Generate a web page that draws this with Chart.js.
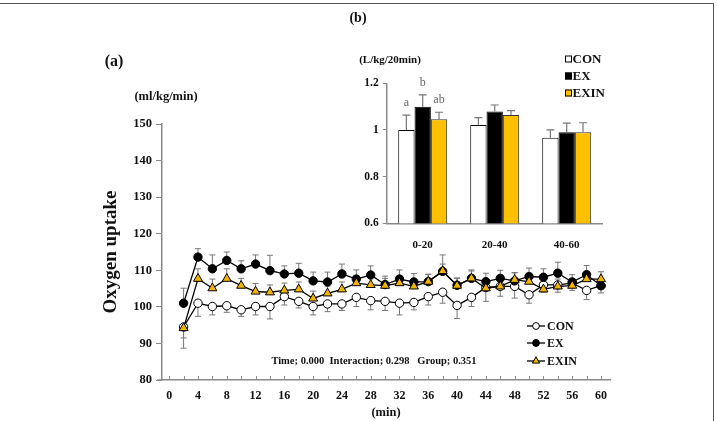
<!DOCTYPE html>
<html><head><meta charset="utf-8">
<script src="https://cdn.jsdelivr.net/npm/chart.js"></script>
<style>
html,body{margin:0;padding:0;background:#fff;}
#wrap{position:relative;width:717px;height:421px;overflow:hidden;}
#main{position:absolute;left:0;top:0;}
#inset{position:absolute;left:340px;top:40px;}
#frame{position:absolute;left:-4px;top:3px;width:718px;height:430px;border-top:1px solid #555;border-right:1.5px solid #555;box-sizing:border-box;}
</style></head>
<body><div id="wrap">
<canvas id="main" width="717" height="421"></canvas>
<canvas id="inset" width="300" height="220"></canvas>
<div id="frame"></div>
</div>
<script>
// ---------- data (a) ----------
const minutes = [2,4,6,8,10,12,14,16,18,20,22,24,26,28,30,32,34,36,38,40,42,44,46,48,50,52,54,56,58,60];
const conVals  = [94.5,101.0,100.1,100.3,99.2,100.1,100.1,102.8,101.5,100.1,100.8,100.8,102.6,101.7,101.5,101.0,101.2,102.8,104.0,100.4,102.6,105.3,105.6,105.6,103.3,106.0,106.0,106.5,104.5,105.8];
const exVals   = [101.0,113.6,110.4,112.7,110.4,111.7,109.9,109.0,109.2,107.1,106.8,109.0,107.6,108.7,106.1,107.6,106.8,106.9,109.7,105.9,107.8,106.9,107.8,107.1,108.3,108.1,109.2,106.8,108.8,105.8];
const exinVals = [94.2,107.7,105.1,107.7,105.8,104.2,104.0,104.5,104.8,102.3,103.7,104.8,106.5,106.0,105.8,106.5,105.6,106.9,109.8,105.8,107.8,105.1,105.6,107.4,106.9,104.8,105.6,105.8,107.6,107.6];
// signed error bars (positive = drawn upward, negative = downward)
const conErr  = [-3.0,-3.6,-2.3,-1.8,-1.8,-2.3,-3.4,-2.3,-1.8,-2.3,-2.1,-1.8,-2.5,-2.5,-2.5,-3.2,-2.0,-2.3,-3.0,-3.6,-2.5,-3.8,-2.7,-3.2,-2.3,-2.0,-2.0,-2.0,-2.5,-2.0];
const exErr   = [4.1,2.3,3.8,2.3,2.2,2.5,4.2,2.2,2.7,2.4,2.7,2.7,2.5,2.5,2.3,2.5,2.3,2.0,2.0,2.0,2.3,2.3,2.2,2.2,2.3,2.3,3.0,2.0,2.5,2.0];
const exinErr = [-5.5,2.7,2.5,2.7,2.0,2.2,2.0,2.0,2.0,2.0,2.0,2.0,2.0,2.2,2.0,2.0,2.0,2.0,4.4,2.0,2.0,2.2,2.2,2.0,2.0,2.0,2.0,2.0,2.0,2.0];
const seriesNames = ['CON','EX','EXIN'];
const xMinorTicks = [0,2,4,6,8,10,12,14,16,18,20,22,24,26,28,30,32,34,36,38,40,42,44,46,48,50,52,54,56,58,60];
const xTickLabels = [0,4,8,12,16,20,24,28,32,36,40,44,48,52,56,60];
const yTicks = [80,90,100,110,120,130,140,150];
const statsText = 'Time; 0.000  Interaction; 0.298   Group; 0.351';

// ---------- data (b) ----------
const periods = ['0-20','20-40','40-60'];
const barCon  = [1.000,1.021,0.967];
const barEx   = [1.100,1.079,0.990];
const barExin = [1.046,1.064,0.990];
const barConErr  = [0.064,0.032,0.033];
const barExErr   = [0.050,0.028,0.039];
const barExinErr = [0.030,0.019,0.041];
const sigLetters = [['a','b','ab'],['','',''],['','','']]; // [period][series]
const barTicks = [0.6,0.8,1.0,1.2];

const SERIF = "'Liberation Serif','Times New Roman',serif";
const GOLD = '#F0B400';
const AXIS = '#8a8a8a';

const pts = vals => minutes.map((m,i)=>({x:m,y:vals[i]}));
const errs = [conErr, exErr, exinErr];

function drawMarker(ctx, style, x, y, r, fill){
  ctx.save();
  ctx.fillStyle = fill; ctx.strokeStyle = '#000'; ctx.lineWidth = 1;
  ctx.beginPath();
  if(style==='triangle'){
    ctx.moveTo(x, y - r);
    ctx.lineTo(x + r*0.866, y + r*0.5);
    ctx.lineTo(x - r*0.866, y + r*0.5);
    ctx.closePath();
  } else {
    ctx.arc(x, y, r, 0, Math.PI*2);
  }
  ctx.fill(); ctx.stroke();
  ctx.restore();
}

const mainDecor = {
  id:'mainDecor',
  beforeDatasetsDraw(chart){
    const ctx = chart.ctx, xs = chart.scales.x, ys = chart.scales.y;
    ctx.save();
    ctx.strokeStyle = '#777'; ctx.lineWidth = 1;
    chart.data.datasets.forEach((ds, di)=>{
      const e = errs[ds.seriesIndex];
      ds.data.forEach((p, j)=>{
        const x = xs.getPixelForValue(p.x);
        const y0 = ys.getPixelForValue(p.y);
        const y1 = ys.getPixelForValue(p.y + e[j]);
        ctx.beginPath();
        ctx.moveTo(x, y0); ctx.lineTo(x, y1);
        ctx.moveTo(x-3, y1); ctx.lineTo(x+3, y1);
        ctx.stroke();
      });
    });
    ctx.restore();
  },
  afterDraw(chart){
    const ctx = chart.ctx, xs = chart.scales.x, ys = chart.scales.y;
    const yb = ys.getPixelForValue(80);
    ctx.save();
    // inward x ticks + short extension left of y axis
    ctx.strokeStyle = AXIS; ctx.lineWidth = 1;
    xMinorTicks.forEach(v=>{
      const x = Math.round(xs.getPixelForValue(v)) + 0.5;
      ctx.beginPath(); ctx.moveTo(x, yb); ctx.lineTo(x, yb-4); ctx.stroke();
    });
    ctx.lineWidth = 1.5;
    ctx.beginPath(); ctx.moveTo(xs.left-5, yb); ctx.lineTo(xs.left, yb); ctx.stroke();
    // texts
    ctx.fillStyle = '#111';
    ctx.textAlign = 'center'; ctx.textBaseline = 'middle';
    ctx.font = 'bold 14px ' + SERIF; ctx.fillText('(b)', 358, 18);
    ctx.font = 'bold 16px ' + SERIF; ctx.fillText('(a)', 114, 62);
    ctx.font = 'bold 12.5px ' + SERIF; ctx.fillText('(ml/kg/min)', 166, 97);
    ctx.font = 'bold 10.5px ' + SERIF; ctx.fillText(statsText, 374, 361);
    // legend
    const legY = [326, 343, 361];
    ctx.textAlign = 'left';
    ctx.font = 'bold 12px ' + SERIF;
    chart.data.datasets.slice().sort((a,b)=>a.seriesIndex-b.seriesIndex).forEach((ds, k)=>{
      const y = legY[k];
      ctx.strokeStyle = '#000'; ctx.lineWidth = 1.3;
      ctx.beginPath(); ctx.moveTo(527, y); ctx.lineTo(545, y); ctx.stroke();
      drawMarker(ctx, ds.pointStyle, 536, y, ds.pointStyle==='triangle'?4.2:3.4, ds.pointBackgroundColor);
      ctx.fillStyle = '#111';
      ctx.fillText(seriesNames[ds.seriesIndex], 547, y+0.5);
    });
    ctx.restore();
  }
};

const fontTick = {family:SERIF, size:12.5, weight:'bold'};

new Chart(document.getElementById('main'), {
  type:'line',
  data:{datasets:[
    {label:'EXIN', seriesIndex:2, data:pts(exinVals), borderColor:'#000', borderWidth:1.3, pointStyle:'triangle', pointRadius:5.2, pointBorderColor:'#000', pointBackgroundColor:GOLD, pointBorderWidth:1, order:1},
    {label:'EX', seriesIndex:1, data:pts(exVals), borderColor:'#000', borderWidth:1.3, pointStyle:'circle', pointRadius:4.2, pointBorderColor:'#000', pointBackgroundColor:'#000', pointBorderWidth:1, order:2},
    {label:'CON', seriesIndex:0, data:pts(conVals), borderColor:'#000', borderWidth:1.3, pointStyle:'circle', pointRadius:4.2, pointBorderColor:'#000', pointBackgroundColor:'#fff', pointBorderWidth:1, order:3}
  ]},
  options:{
    responsive:false, animation:false, devicePixelRatio:1,
    layout:{padding:{left:100, top:124, right:107, bottom:0}},
    plugins:{legend:{display:false}, tooltip:{enabled:false}},
    scales:{
      x:{type:'linear', min:-1, max:61.25,
        afterBuildTicks:s=>{ s.ticks = xMinorTicks.map(v=>({value:v})); },
        ticks:{autoSkip:false, maxRotation:0, padding:9, color:'#111', font:{family:SERIF, size:12, weight:'bold'},
          callback:v=> xTickLabels.includes(v) ? String(v) : ''},
        grid:{drawOnChartArea:false, drawTicks:false, color:AXIS},
        border:{color:AXIS, width:1.5},
        title:{display:true, text:'(min)', color:'#111', font:{family:SERIF, size:12.5, weight:'bold'}, padding:{top:0,bottom:1}},
        afterFit:s=>{ s.height = 41; }
      },
      y:{min:80, max:150,
        afterBuildTicks:s=>{ s.ticks = yTicks.map(v=>({value:v})); },
        ticks:{padding:4, color:'#111', font:fontTick},
        grid:{drawOnChartArea:false, drawTicks:true, tickLength:6, color:AXIS},
        border:{color:AXIS, width:1.5},
        title:{display:true, text:'Oxygen uptake', color:'#111', font:{family:SERIF, size:19, weight:'bold'}, padding:{top:0,bottom:0}},
        afterFit:s=>{ s.width = 62; }
      }
    }
  },
  plugins:[mainDecor]
});

// ---------- inset (b) ----------
const barErrs = [barConErr, barExErr, barExinErr];
const insetDecor = {
  id:'insetDecor',
  afterDatasetsDraw(chart){
    const ctx = chart.ctx, ys = chart.scales.y;
    ctx.save();
    chart.data.datasets.forEach((ds, di)=>{
      const meta = chart.getDatasetMeta(di);
      meta.data.forEach((el, j)=>{
        const v = ds.data[j], e = barErrs[di][j];
        const y0 = ys.getPixelForValue(v), y1 = ys.getPixelForValue(v+e);
        ctx.strokeStyle = '#777'; ctx.lineWidth = 1.2;
        ctx.beginPath();
        ctx.moveTo(el.x, y0); ctx.lineTo(el.x, y1);
        ctx.moveTo(el.x-4, y1); ctx.lineTo(el.x+4, y1);
        ctx.stroke();
        const L = sigLetters[j][di];
        if(L){
          ctx.fillStyle = '#666'; ctx.font = '12px ' + SERIF;
          ctx.textAlign = 'center'; ctx.textBaseline = 'middle';
          ctx.fillText(L, el.x, y1 - 12.5);
        }
      });
    });
    // unit label
    ctx.fillStyle = '#111'; ctx.textAlign = 'center'; ctx.textBaseline = 'middle';
    ctx.font = 'bold 11px ' + SERIF;
    ctx.fillText('(L/kg/20min)', 50, 20);
    // legend
    const legY = [19, 36, 53];
    ctx.textAlign = 'left'; ctx.font = 'bold 13px ' + SERIF;
    chart.data.datasets.forEach((ds, di)=>{
      const y = legY[di];
      ctx.fillStyle = ds.backgroundColor; ctx.strokeStyle = '#000'; ctx.lineWidth = 1;
      ctx.fillRect(225, y-3.5, 7, 7); ctx.strokeRect(225.5, y-3, 6, 6);
      ctx.fillStyle = '#111';
      ctx.fillText(ds.label, 232.5, y+0.5);
    });
    ctx.restore();
  }
};

new Chart(document.getElementById('inset'), {
  type:'bar',
  data:{labels:periods, datasets:[
    {label:'CON', data:barCon, backgroundColor:'#fff', borderColor:'#000', borderWidth:1},
    {label:'EX', data:barEx, backgroundColor:'#000', borderColor:'#000', borderWidth:1},
    {label:'EXIN', data:barExin, backgroundColor:'#FFC000', borderColor:'#333', borderWidth:1}
  ]},
  options:{
    responsive:false, animation:false, devicePixelRatio:1,
    layout:{padding:{left:6.7, top:43.3, right:37.3, bottom:0}},
    plugins:{legend:{display:false}, tooltip:{enabled:false}},
    datasets:{bar:{categoryPercentage:0.68, barPercentage:1.0}},
    scales:{
      x:{ticks:{padding:7, color:'#111', font:{family:SERIF, size:11, weight:'bold'}},
        grid:{display:false},
        border:{color:AXIS, width:1.5},
        afterFit:s=>{ s.height = 36.7; }
      },
      y:{min:0.6, max:1.2,
        afterBuildTicks:s=>{ s.ticks = barTicks.map(v=>({value:v})); },
        ticks:{padding:4, color:'#111', font:{family:SERIF, size:11.5, weight:'bold'},
          callback:v=> (Math.abs(v-1)<1e-9 ? '1' : String(Math.round(v*10)/10))},
        grid:{drawOnChartArea:false, drawTicks:true, tickLength:4, color:AXIS},
        border:{color:AXIS, width:1.5},
        afterFit:s=>{ s.width = 40; }
      }
    }
  },
  plugins:[insetDecor]
});
</script>
</body></html>
